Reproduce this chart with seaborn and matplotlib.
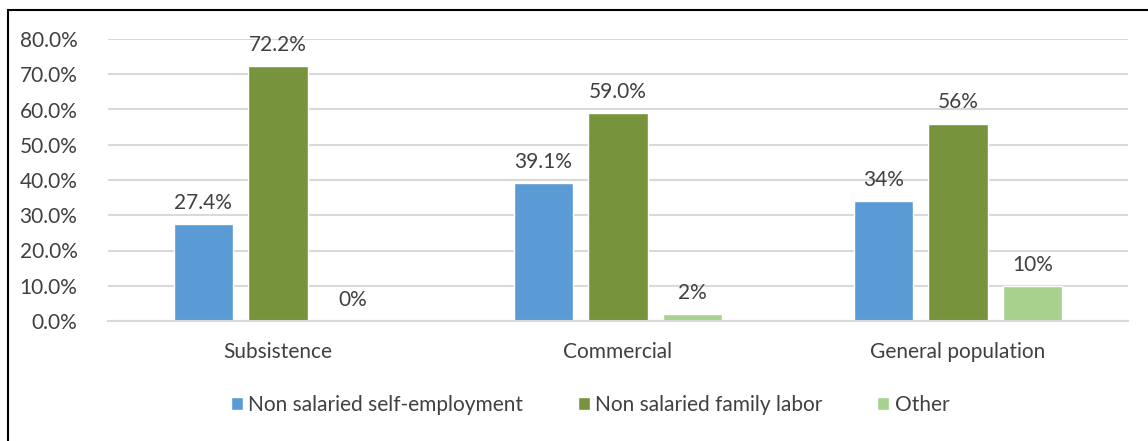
import matplotlib
matplotlib.use("Agg")
import matplotlib.pyplot as plt
from matplotlib.patches import Rectangle
import seaborn as sns
import pandas as pd

categories = ["Subsistence", "Commercial", "General population"]
series = ["Non salaried self-employment", "Non salaried family labor", "Other"]
self_employment = [27.4, 39.1, 34.0]
family_labor = [72.2, 59.0, 56.0]
other = [0.0, 2.0, 10.0]
value_labels = [
    ["27.4%", "39.1%", "34%"],
    ["72.2%", "59.0%", "56%"],
    ["0%", "2%", "10%"],
]
yticks = [0, 10, 20, 30, 40, 50, 60, 70, 80]
colors = ["#5b9bd5", "#77933c", "#a9d18e"]

rows = []
for s, vals in zip(series, [self_employment, family_labor, other]):
    for c, v in zip(categories, vals):
        rows.append({"category": c, "series": s, "value": v})
df = pd.DataFrame(rows)

sns.set_theme(style="white")
plt.rcParams["font.family"] = ["Lato", "DejaVu Sans"]
text_color = "#404040"
fs = 15

fig = plt.figure(figsize=(11.48, 4.41), dpi=100)
ax = fig.add_axes([108 / 1148, 1 - 321 / 441, 1020 / 1148, (321 - 39) / 441])

sns.barplot(data=df, x="category", y="value", hue="series", order=categories,
            hue_order=series, palette=colors, width=0.66, gap=0.21,
            saturation=1, ax=ax, legend=True)

ax.set_ylim(0, 80)
ax.set_yticks(yticks)
ax.set_yticklabels([f"{t:.1f}%" for t in yticks])
ax.set_xlim(-0.5, 2.5)
ax.grid(axis="y", color="#d9d9d9", linewidth=1.5)
ax.set_axisbelow(True)
for side in ["top", "right", "left"]:
    ax.spines[side].set_visible(False)
ax.spines["bottom"].set_color("#d9d9d9")
ax.spines["bottom"].set_linewidth(1.5)
ax.set_xlabel("")
ax.set_ylabel("")
ax.tick_params(axis="both", length=0, labelsize=fs, labelcolor=text_color)
ax.tick_params(axis="x", pad=15)
ax.tick_params(axis="y", pad=22)

for container, labels in zip(ax.containers, value_labels):
    ax.bar_label(container, labels=labels, padding=8, fontsize=fs, color=text_color)

handles, labs = ax.get_legend_handles_labels()
ax.legend(handles, labs, loc="center", bbox_to_anchor=(590 / 1148, 1 - 405 / 441),
          bbox_transform=fig.transFigure, ncol=3, frameon=False, fontsize=fs,
          handlelength=0.6, handleheight=0.6, handletextpad=0.25, columnspacing=2.6,
          labelcolor=text_color)

# outer chart frame
fig.patches.append(Rectangle((8 / 1148, -0.1), 1.2, 1 - 10 / 441 + 0.1,
                             transform=fig.transFigure, fill=False,
                             edgecolor="black", linewidth=1.5, clip_on=False))

fig.savefig("out.png", dpi=100)
